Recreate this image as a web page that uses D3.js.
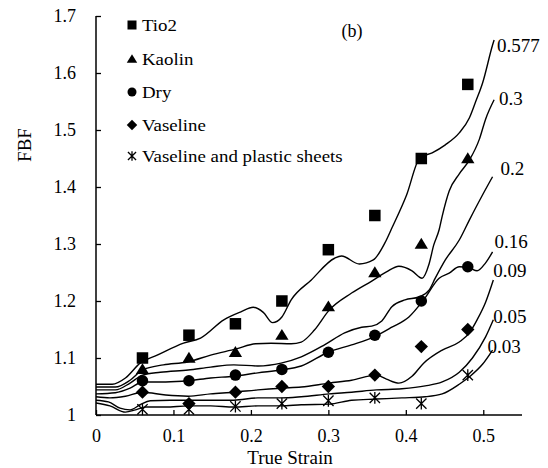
<!DOCTYPE html>
<html>
<head>
<meta charset="utf-8">
<script src="https://cdn.jsdelivr.net/npm/d3@7/dist/d3.min.js"></script>
<style>
  html, body { margin: 0; padding: 0; background: #fff; }
  svg { display: block; }
  text { font-family: "Liberation Serif", "Times New Roman", serif; fill: #000; }
</style>
</head>
<body>
<svg id="chart" width="548" height="468"></svg>
<script>
// ---------- data ----------
const strainX = [0.06, 0.12, 0.18, 0.24, 0.30, 0.36, 0.42, 0.48];
const tio2 = [1.10, 1.14, 1.16, 1.20, 1.29, 1.35, 1.45, 1.58];
const kaolin = [1.08, 1.10, 1.11, 1.14, 1.19, 1.25, 1.30, 1.45];
const dry = [1.06, 1.06, 1.07, 1.08, 1.11, 1.14, 1.20, 1.26];
const vaseline = [1.04, 1.02, 1.04, 1.05, 1.05, 1.07, 1.12, 1.15];
const vaselinePlastic = [1.01, 1.01, 1.015, 1.02, 1.025, 1.03, 1.02, 1.07];

const seriesNames = ["Tio2", "Kaolin", "Dry", "Vaseline", "Vaseline and plastic sheets"];

const xTicks = [0, 0.1, 0.2, 0.3, 0.4, 0.5];
const yTicks = [1, 1.1, 1.2, 1.3, 1.4, 1.5, 1.6, 1.7];

// simulated curves (friction coefficient labels)
const curveLabels = ["0.577", "0.3", "0.2", "0.16", "0.09", "0.05", "0.03"];
const curve0577 = [[0,1.054],[0.021,1.054],[0.038,1.065],[0.057,1.091],[0.079,1.105],[0.113,1.126],[0.135,1.135],[0.165,1.167],[0.187,1.181],[0.203,1.189],[0.216,1.180],[0.228,1.162],[0.240,1.172],[0.252,1.202],[0.278,1.237],[0.308,1.275],[0.317,1.279],[0.340,1.265],[0.358,1.272],[0.373,1.302],[0.382,1.328],[0.401,1.386],[0.418,1.451],[0.434,1.460],[0.451,1.474],[0.469,1.495],[0.482,1.521],[0.490,1.549],[0.499,1.582],[0.512,1.649],[0.514,1.658]];
const curve03 = [[0,1.049],[0.025,1.049],[0.044,1.061],[0.060,1.079],[0.087,1.088],[0.118,1.093],[0.148,1.105],[0.181,1.116],[0.206,1.125],[0.226,1.126],[0.252,1.125],[0.265,1.128],[0.282,1.149],[0.301,1.184],[0.330,1.214],[0.356,1.235],[0.375,1.251],[0.391,1.261],[0.408,1.253],[0.421,1.240],[0.430,1.265],[0.436,1.298],[0.443,1.325],[0.447,1.349],[0.456,1.393],[0.469,1.423],[0.482,1.447],[0.495,1.484],[0.503,1.519],[0.514,1.553]];
const curve02 = [[0,1.044],[0.025,1.044],[0.044,1.056],[0.060,1.070],[0.083,1.075],[0.119,1.079],[0.148,1.084],[0.178,1.088],[0.209,1.086],[0.239,1.091],[0.265,1.102],[0.295,1.123],[0.321,1.144],[0.343,1.154],[0.356,1.156],[0.369,1.165],[0.382,1.190],[0.399,1.202],[0.417,1.207],[0.430,1.219],[0.438,1.240],[0.451,1.272],[0.469,1.307],[0.482,1.342],[0.499,1.386],[0.512,1.418]];
const curve016 = [[0,1.037],[0.025,1.039],[0.044,1.047],[0.060,1.058],[0.090,1.058],[0.119,1.060],[0.148,1.065],[0.178,1.068],[0.209,1.074],[0.239,1.079],[0.265,1.086],[0.301,1.111],[0.330,1.123],[0.362,1.139],[0.382,1.154],[0.404,1.172],[0.423,1.202],[0.443,1.240],[0.456,1.249],[0.469,1.260],[0.482,1.258],[0.492,1.253],[0.503,1.267],[0.512,1.286]];
const curve009 = [[0,1.032],[0.018,1.030],[0.038,1.033],[0.060,1.040],[0.090,1.035],[0.119,1.033],[0.148,1.037],[0.178,1.040],[0.209,1.044],[0.239,1.047],[0.265,1.049],[0.301,1.056],[0.330,1.061],[0.362,1.070],[0.375,1.063],[0.391,1.056],[0.408,1.068],[0.423,1.091],[0.447,1.114],[0.469,1.128],[0.482,1.144],[0.492,1.167],[0.503,1.198],[0.513,1.237]];
const curve005 = [[0,1.026],[0.016,1.023],[0.031,1.012],[0.044,1.009],[0.057,1.018],[0.070,1.025],[0.096,1.026],[0.119,1.026],[0.148,1.026],[0.178,1.026],[0.209,1.030],[0.239,1.030],[0.265,1.032],[0.301,1.037],[0.330,1.040],[0.362,1.044],[0.395,1.046],[0.425,1.051],[0.447,1.058],[0.469,1.075],[0.486,1.100],[0.503,1.137],[0.513,1.167]];
const curve003 = [[0,1.021],[0.018,1.016],[0.038,1.005],[0.051,1.009],[0.064,1.014],[0.090,1.014],[0.119,1.016],[0.148,1.016],[0.178,1.014],[0.209,1.016],[0.239,1.016],[0.265,1.018],[0.301,1.019],[0.330,1.026],[0.362,1.028],[0.395,1.030],[0.425,1.032],[0.447,1.037],[0.469,1.054],[0.483,1.068],[0.499,1.089],[0.512,1.114]];

// ---------- layout ----------
const svg = d3.select("#chart");
const x = d3.scaleLinear().domain([0, 0.55]).range([96, 522]);
const y = d3.scaleLinear().domain([1, 1.7]).range([415, 16]);

// axes
const xAxis = d3.axisBottom(x).tickValues(xTicks).tickSize(-5).tickPadding(14)
  .tickFormat(d => d === 0 ? "0" : d3.format(".1f")(d));
const yAxis = d3.axisLeft(y).tickValues(yTicks).tickSize(-5).tickPadding(20)
  .tickFormat(d => d === 1 ? "1" : d3.format(".1f")(d));

const gx = svg.append("g").attr("transform", "translate(0,415)").call(xAxis);
gx.select(".domain").attr("d", "M96,0H522").attr("stroke", "#000").attr("stroke-width", 1.5);
gx.selectAll(".tick line").attr("stroke", "#000").attr("stroke-width", 1.3);
gx.selectAll(".tick text").attr("font-size", 18).attr("font-family", "Liberation Serif");

const gy = svg.append("g").attr("transform", "translate(96,0)").call(yAxis);
gy.select(".domain").attr("d", "M0,415V16").attr("stroke", "#000").attr("stroke-width", 1.5);
gy.selectAll(".tick line").attr("stroke", "#000").attr("stroke-width", 1.3);
gy.selectAll(".tick text").attr("font-size", 18).attr("font-family", "Liberation Serif");

// axis titles
svg.append("text").attr("x", 290).attr("y", 464).attr("text-anchor", "middle")
  .attr("font-size", 19).text("True Strain");
svg.append("text").attr("transform", "translate(31,145) rotate(-90)").attr("text-anchor", "middle")
  .attr("font-size", 19).text("FBF");
svg.append("text").attr("x", 352).attr("y", 37).attr("text-anchor", "middle")
  .attr("font-size", 18).text("(b)");

// curves
const curves = [curve0577, curve03, curve02, curve016, curve009, curve005, curve003];
const labelOffsets = [[3, 12], [5, 5], [8, -2], [2, -4], [0, -3], [0, 3], [-5, 3]];
const line = d3.line().x(d => x(d[0])).y(d => y(d[1])).curve(d3.curveMonotoneX);
svg.append("g").selectAll("path").data(curves).join("path")
  .attr("d", line).attr("fill", "none").attr("stroke", "#000").attr("stroke-width", 1.4);

svg.append("g").selectAll("text").data(curves).join("text")
  .attr("x", (d, i) => x(d[d.length - 1][0]) + labelOffsets[i][0])
  .attr("y", (d, i) => y(d[d.length - 1][1]) + labelOffsets[i][1])
  .attr("font-size", 19)
  .text((d, i) => curveLabels[i]);

// markers
const seriesVals = [tio2, kaolin, dry, vaseline, vaselinePlastic];
function drawMarker(g, type, s) {
  if (type === 0) {
    g.append("rect").attr("x", -s / 2).attr("y", -s / 2).attr("width", s).attr("height", s).attr("fill", "#000");
  } else if (type === 1) {
    const h = s * 0.9;
    g.append("path").attr("d", `M0,${-h * 0.6}L${s * 0.58},${h * 0.45}L${-s * 0.58},${h * 0.45}Z`).attr("fill", "#000");
  } else if (type === 2) {
    g.append("circle").attr("r", s / 2).attr("fill", "#000");
  } else if (type === 3) {
    const r = s * 0.58;
    g.append("path").attr("d", `M0,${-r}L${r},0L0,${r}L${-r},0Z`).attr("fill", "#000");
  } else {
    const r = s * 0.45;
    g.append("path").attr("d", `M${-r},${-r}L${r},${r}M${-r},${r}L${r},${-r}M0,${-r * 1.15}L0,${r * 1.15}`)
      .attr("stroke", "#000").attr("stroke-width", 1.3).attr("fill", "none");
  }
}
seriesVals.forEach((vals, si) => {
  const g = svg.append("g");
  vals.forEach((v, i) => {
    const m = g.append("g").attr("transform", `translate(${x(strainX[i])},${y(v)})`);
    drawMarker(m, si, 11.5);
  });
});

// legend
const legendY = [25, 59, 92, 125, 156];
const lg = svg.append("g");
seriesNames.forEach((name, i) => {
  const m = lg.append("g").attr("transform", `translate(132,${legendY[i]})`);
  drawMarker(m, i, 9);
  lg.append("text").attr("transform", `translate(142,${legendY[i] + 5.5}) scale(1.18,1)`)
    .attr("font-size", 16).text(name);
});
</script>
</body>
</html>
